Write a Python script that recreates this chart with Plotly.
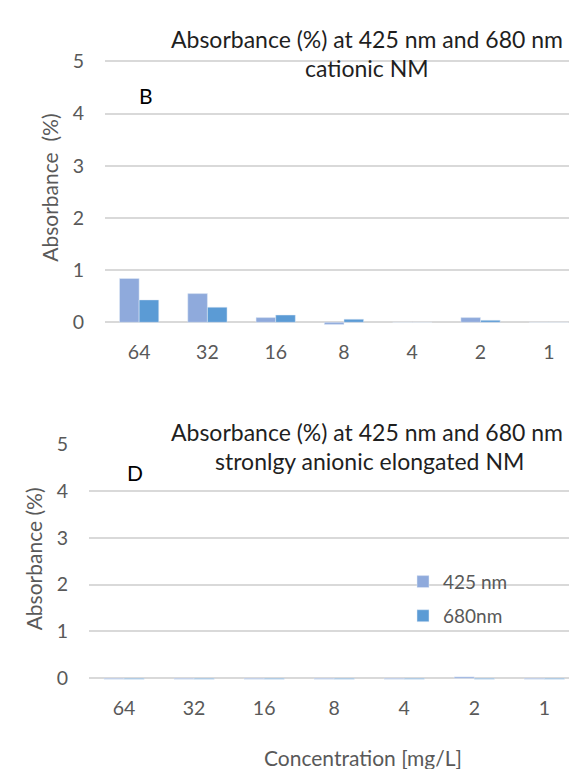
import plotly.graph_objects as go

# ---------------- data ----------------
categories = ["64", "32", "16", "8", "4", "2", "1"]
cationic_425 = [0.84, 0.55, 0.09, -0.04, 0.0, 0.09, 0.0]
cationic_680 = [0.43, 0.29, 0.14, 0.06, 0.0, 0.04, 0.0]
anionic_425 = [-0.02, -0.02, -0.02, -0.02, -0.02, 0.03, -0.02]
anionic_680 = [-0.02, -0.02, -0.02, -0.02, -0.02, -0.02, -0.02]
y_ticks = [0, 1, 2, 3, 4, 5]
series_names = ["425 nm", "680nm"]

# ---------------- style ----------------
W, H = 577, 769
FONT = "Lato, Carlito, Calibri, sans-serif"
C425 = "#8FAADC"
C680 = "#5B9BD5"
GRID = "#D9D9D9"
TICK = "#595959"
TITLE = "#1f1f1f"


def px_x(p):
    return p / W


def px_y(p):
    return 1 - p / H


YR = [-0.06, 5.02]


def ydomain(px5, px0):
    per = (px0 - px5) / 5.0
    top = px5 - (YR[1] - 5) * per
    bot = px0 - YR[0] * per
    return [px_y(bot), px_y(top)]


fig = go.Figure()

fig.add_trace(go.Bar(x=categories, y=cationic_425, name=series_names[0], marker_color=C425,
                     xaxis="x", yaxis="y", showlegend=False))
fig.add_trace(go.Bar(x=categories, y=cationic_680, name=series_names[1], marker_color=C680,
                     xaxis="x", yaxis="y", showlegend=False))
fig.add_trace(go.Bar(x=categories, y=anionic_425, name=series_names[0], marker_color=C425,
                     xaxis="x2", yaxis="y2", legend="legend"))
fig.add_trace(go.Bar(x=categories, y=anionic_680, name=series_names[1], marker_color=C680,
                     xaxis="x2", yaxis="y2", legend="legend2"))

xcommon = dict(type="category", showgrid=False, zeroline=False, showline=False, ticks="",
               tickfont=dict(family=FONT, size=19.5, color=TICK), ticklabelstandoff=13,
               fixedrange=True)
ycommon = dict(range=YR, tickvals=y_ticks, showgrid=True, gridcolor=GRID, gridwidth=1.6,
               zeroline=True, zerolinecolor=GRID, zerolinewidth=1.6, showline=False, ticks="",
               tickfont=dict(family=FONT, size=19.5, color=TICK), ticklabelstandoff=20,
               fixedrange=True)

legend_common = dict(font=dict(family=FONT, size=19, color=TICK), bgcolor="rgba(0,0,0,0)",
                     xanchor="left", yanchor="middle", itemwidth=30)

fig.update_layout(
    width=W, height=H,
    margin=dict(l=0, r=0, t=0, b=0),
    paper_bgcolor="white", plot_bgcolor="white",
    barmode="group", bargap=0.425, bargroupgap=0,
    xaxis=dict(xcommon, domain=[px_x(97), 1], range=[-0.5, 6.53], anchor="y"),
    yaxis=dict(ycommon, domain=ydomain(43.5, 311), anchor="x"),
    xaxis2=dict(xcommon, domain=[px_x(81), 1], range=[-0.5, 6.58], anchor="y2"),
    yaxis2=dict(ycommon, domain=ydomain(436, 676), anchor="x2"),
    legend=dict(legend_common, x=px_x(395), y=px_y(577)),
    legend2=dict(legend_common, x=px_x(395), y=px_y(612)),
)


def ann(text, x, y, size, color, angle=0):
    fig.add_annotation(text=text, x=px_x(x), y=px_y(y), xref="paper", yref="paper",
                       xanchor="center", yanchor="middle", showarrow=False, textangle=angle,
                       font=dict(family=FONT, size=size, color=color))


ann("Absorbance (%) at 425 nm and 680 nm", 359, 20, 23, TITLE)
ann("cationic NM", 359, 50, 23, TITLE)
ann("Absorbance (%) at 425 nm and 680 nm", 359, 423, 23, TITLE)
ann("stronlgy anionic elongated NM", 361, 453, 23, TITLE)
ann("B", 138, 78, 21, "#000000")
ann("D", 127, 465, 21, "#000000")
ann("Absorbance\u00a0\u00a0(%)", 42, 173, 21, TICK, -90)
ann("Absorbance (%)", 25, 554, 21, TICK, -90)
ann("Concentration [mg/L]", 355, 757, 21, TICK)

fig.write_html("out.html")
